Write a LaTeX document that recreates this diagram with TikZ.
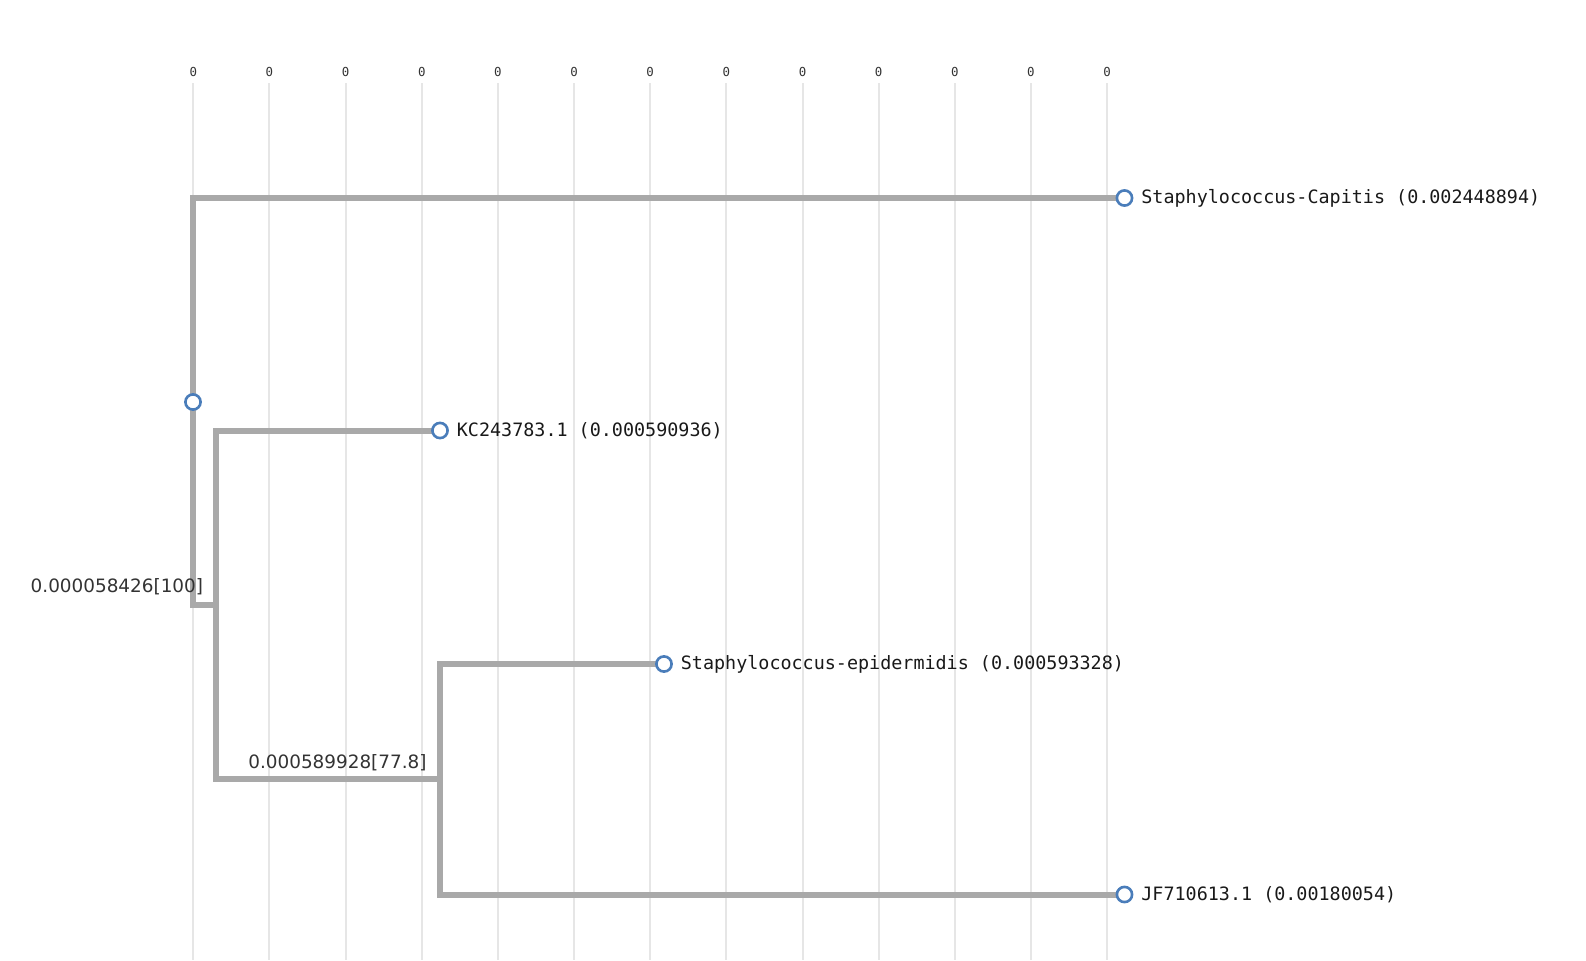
\documentclass[tikz,border=0pt]{standalone}
\usepackage{fontspec}
\setmainfont{DejaVu Sans}
\newfontfamily\leaffont{DejaVu Sans Mono}
\usetikzlibrary{positioning, backgrounds}

\definecolor{branchgrey}{HTML}{A9A9A9}
\definecolor{leafblue}{HTML}{4A7DBA}
\definecolor{gridgrey}{HTML}{E6E6E6}
\definecolor{labelgrey}{HTML}{333333}

\begin{document}
\begin{tikzpicture}[x=0.5pt, y=-0.5pt,
  branch/.style={line width=3pt, branchgrey, line join=miter},
  leaf/.style={circle, draw=leafblue, line width=1.3pt, fill=white, minimum size=7.6pt, inner sep=0pt},
  leaflabel/.style={anchor=west, inner sep=0pt, font=\leaffont\fontsize{9.2}{11}\selectfont, text=black!90},
  support/.style={anchor=east, inner sep=0pt, font=\fontsize{9.2}{11}\selectfont, text=labelgrey},
  tick/.style={inner sep=0pt, font=\leaffont\fontsize{6.2}{7}\selectfont, text=labelgrey}]

\useasboundingbox (0,0) rectangle (1586,960);

% The scale
\foreach \i in {0,...,12}
  \node[tick] (tick\i) at (193.3+76.15*\i, 71.5) {0};

% Internal nodes
\node[leaf] (root) at (193,402) {};
\coordinate (nA) at (216,605);
\coordinate (nB) at (440,779);

% Leaves
\node[leaf] (capitis) at (1124.5,198) {};
\node[leaf] (kc) at (440,430.5) {};
\node[leaf] (epi) at (664,664) {};
\node[leaf] (jf) at (1124.5,894.5) {};

\node[leaflabel, right=3.8pt of capitis] (capitisText) {Staphylococcus-Capitis (0.002448894)};
\node[leaflabel, right=3.8pt of kc] (kcText) {KC243783.1 (0.000590936)};
\node[leaflabel, right=3.8pt of epi] (epiText) {Staphylococcus-epidermidis (0.000593328)};
\node[leaflabel, right=3.8pt of jf] (jfText) {JF710613.1 (0.00180054)};

% Support values
\node[support] (supA) at ([shift={(-12.5,-18)}]nA) {0.000058426[100]};
\node[support] (supB) at ([shift={(-13,-16)}]nB) {0.000589928[77.8]};

\begin{scope}[on background layer]
% Grid lines
\foreach \i in {0,...,12}
  \draw[gridgrey, line width=1pt] (193.3+76.15*\i, 83) -- (193.3+76.15*\i, 960);

% The branches
\draw[branch] (capitis.center) -| (root.center) |- (nA);
\draw[branch] (kc.center) -| (nA) |- (nB);
\draw[branch] (epi.center) -| (nB) |- (jf.center);
\end{scope}

\end{tikzpicture}
\end{document}
